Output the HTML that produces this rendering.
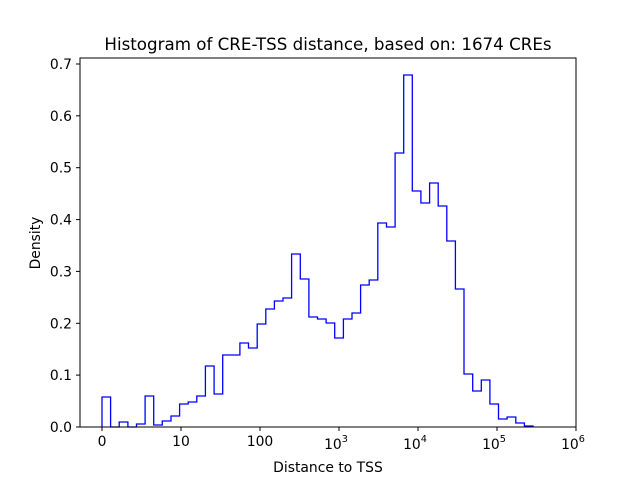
<!DOCTYPE html>
<html><head><meta charset="utf-8"><style>
body{margin:0;background:#fff}
svg{display:block;font-family:"DejaVu Sans","Liberation Sans",sans-serif}
</style></head><body>
<svg width="640" height="480" viewBox="0 0 640 480" xmlns="http://www.w3.org/2000/svg">
<rect width="640" height="480" fill="#fff"/>
<text x="328" y="50" font-size="16.7" text-anchor="middle">Histogram of CRE-TSS distance, based on: 1674 CREs</text>
<polyline fill="none" stroke="#0000ff" stroke-width="1.3" points="
102,427 102,397 110.6,397 110.6,427 119.2,427 119.2,422 127.9,422 127.9,427 136.5,427 136.5,424 145.1,424 145.1,396 153.7,396 153.7,425 162.3,425 162.3,421 171,421 171,416 179.6,416 179.6,404 188.2,404 188.2,402 196.8,402 196.8,396 205.4,396 205.4,366 214.1,366 214.1,394 222.7,394 222.7,355 231.3,355 239.9,355 239.9,343 248.5,343 248.5,348 257.2,348 257.2,324 265.8,324 265.8,309 274.4,309 274.4,301 283,301 283,298 291.6,298 291.6,254 300.3,254 300.3,279 308.9,279 308.9,317 317.5,317 317.5,319 326.1,319 326.1,323 334.7,323 334.7,338 343.4,338 343.4,319 352,319 352,313 360.6,313 360.6,285 369.2,285 369.2,280 377.8,280 377.8,223 386.5,223 386.5,227 395.1,227 395.1,153 403.7,153 403.7,75 412.3,75 412.3,191 420.9,191 420.9,203 429.6,203 429.6,183 438.2,183 438.2,206 446.8,206 446.8,241 455.4,241 455.4,289 464,289 464,374 472.7,374 472.7,391 481.3,391 481.3,380 489.9,380 489.9,404 498.5,404 498.5,419 507.1,419 507.1,417 515.8,417 515.8,423 524.4,423 524.4,426 533,426 533,427"/>
<rect x="80" y="58" width="496" height="369" fill="none" stroke="#000" stroke-width="1"/>
<g stroke="#000" stroke-width="1">
<line x1="102" y1="427" x2="102" y2="431"/><line x1="181" y1="427" x2="181" y2="431"/><line x1="260" y1="427" x2="260" y2="431"/><line x1="339" y1="427" x2="339" y2="431"/><line x1="418" y1="427" x2="418" y2="431"/><line x1="497" y1="427" x2="497" y2="431"/><line x1="576" y1="427" x2="576" y2="431"/>
<line x1="76" y1="427" x2="80" y2="427"/><line x1="76" y1="375.1" x2="80" y2="375.1"/><line x1="76" y1="323.3" x2="80" y2="323.3"/><line x1="76" y1="271.4" x2="80" y2="271.4"/><line x1="76" y1="219.6" x2="80" y2="219.6"/><line x1="76" y1="167.7" x2="80" y2="167.7"/><line x1="76" y1="115.8" x2="80" y2="115.8"/><line x1="76" y1="64" x2="80" y2="64"/>
</g>
<g font-size="13.9" text-anchor="middle">
<text x="102" y="446">0</text><text x="181" y="446">10</text><text x="260" y="446">100</text>
<text x="336" y="449">10<tspan font-size="9.7" dy="-7">3</tspan></text>
<text x="415" y="449">10<tspan font-size="9.7" dy="-7">4</tspan></text>
<text x="494" y="449">10<tspan font-size="9.7" dy="-7">5</tspan></text>
<text x="573" y="449">10<tspan font-size="9.7" dy="-7">6</tspan></text>
</g>
<g font-size="13.9" text-anchor="end">
<text x="72" y="432">0.0</text><text x="72" y="380.1">0.1</text><text x="72" y="328.3">0.2</text><text x="72" y="276.4">0.3</text><text x="72" y="224.6">0.4</text><text x="72" y="172.7">0.5</text><text x="72" y="120.8">0.6</text><text x="72" y="69">0.7</text>
</g>
<text x="328" y="472" font-size="13.9" text-anchor="middle">Distance to TSS</text>
<text x="40" y="243" font-size="13.9" text-anchor="middle" transform="rotate(-90 40 243)">Density</text>
</svg>
</body></html>
